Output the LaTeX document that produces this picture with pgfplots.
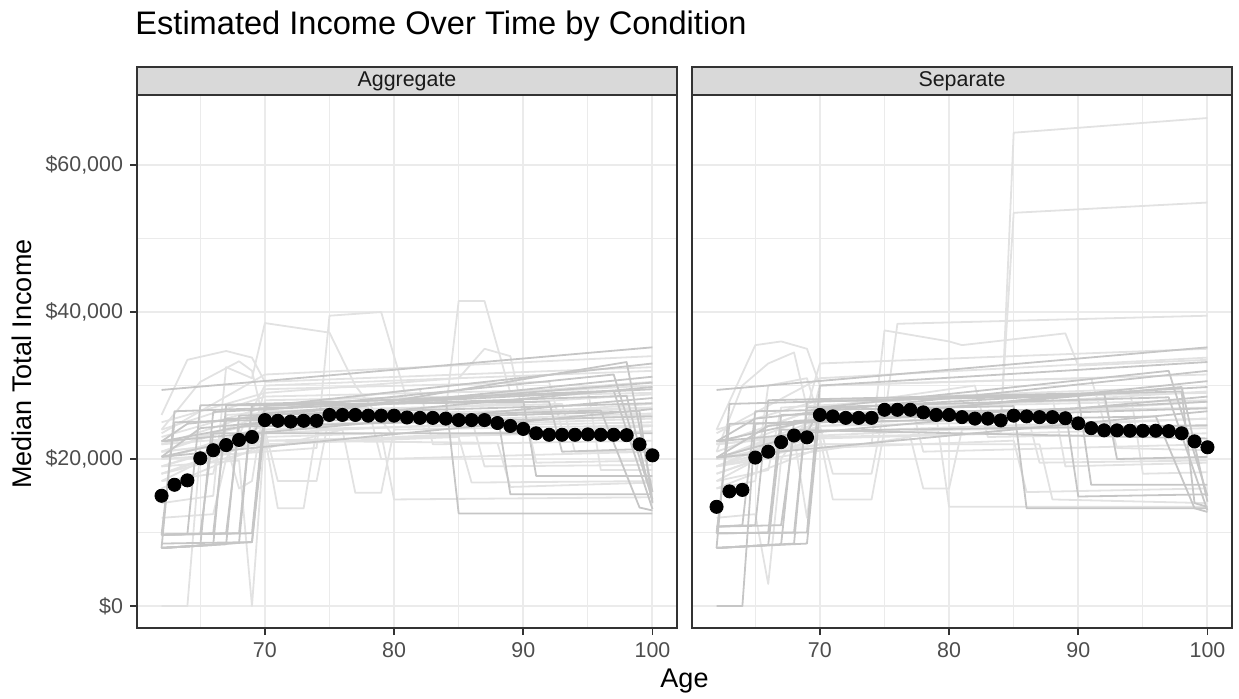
\documentclass[border=0pt]{standalone}
\usepackage{pgfplots}
\usepackage{pgfplotstable}
\pgfplotsset{compat=1.18}
\usepackage{fontspec}
\setmainfont{Liberation Sans}
\definecolor{grey92}{HTML}{EBEBEB}
\definecolor{grey20}{HTML}{333333}
\definecolor{grey30}{HTML}{4D4D4D}
\definecolor{grey10}{HTML}{1A1A1A}
\definecolor{stripfill}{HTML}{D9D9D9}
\definecolor{dkline}{HTML}{C6C6C6}
\definecolor{ltline}{HTML}{E2E2E2}

\pgfplotstableread{
age med
62 15.0
63 16.5
64 17.1
65 20.1
66 21.2
67 21.9
68 22.6
69 23.0
70 25.3
71 25.2
72 25.1
73 25.2
74 25.2
75 26.0
76 26.0
77 26.0
78 25.9
79 25.9
80 25.9
81 25.65
82 25.6
83 25.6
84 25.5
85 25.3
86 25.3
87 25.3
88 24.9
89 24.5
90 24.1
91 23.5
92 23.3
93 23.3
94 23.3
95 23.35
96 23.3
97 23.3
98 23.25
99 22.0
100 20.5
}\aggmed

\pgfplotstableread{
age med
62 13.5
63 15.6
64 15.8
65 20.2
66 21.0
67 22.3
68 23.2
69 22.95
70 26.0
71 25.8
72 25.6
73 25.6
74 25.6
75 26.7
76 26.7
77 26.7
78 26.35
79 26.0
80 26.0
81 25.7
82 25.5
83 25.5
84 25.25
85 25.9
86 25.8
87 25.7
88 25.7
89 25.55
90 24.85
91 24.2
92 23.9
93 23.9
94 23.85
95 23.85
96 23.85
97 23.8
98 23.5
99 22.4
100 21.6
}\sepmed

\pgfplotsset{
  facet/.style={
    anchor=south west, width=270pt, height=266.5pt, scale only axis,
    xmin=60.1, xmax=101.9, ymin=-2.99, ymax=69.53,
    xtick={70,80,90,100}, xticklabels={70,80,90,100},
    minor xtick={65,75,85,95},
    ytick={0,20,40,60}, minor ytick={10,30,50},
    grid=both,
    major grid style={color=grey92, line width=1pt},
    minor grid style={color=grey92, line width=0.55pt},
    axis line style={grey20, line width=0.7pt},
    tick style={grey20, line width=0.8pt},
    major tick length=3.5pt, minor tick length=0pt,
    tick align=outside,
    xtick pos=bottom, ytick pos=left,
    tick label style={font=\fontsize{10.7}{12}\selectfont, text=grey30},
    clip=false,
    cycle list={{black}},
  },
  dk/.style={dkline, line width=0.9pt, line join=round, no markers},
  lt/.style={ltline, line width=0.9pt, line join=round, no markers},
  med/.style={only marks, mark=*, mark size=3.3pt, black},
}

\begin{document}
\begin{tikzpicture}[x=1pt,y=1pt]
\path[use as bounding box] (0,0) rectangle (619.5,349);

% ---------------- Aggregate ----------------
\begin{axis}[facet, at={(68.5pt,35pt)},
  yticklabels={\$0,{\$20,000},{\$40,000},{\$60,000}}]
% light lines
\addplot[lt] coordinates {(62,0)(64,0)(65,21.5)(100,24.5)};
\addplot[lt] coordinates {(62,19)(68,19.8)(69,0)(70,24)(100,25)};
\addplot[lt] coordinates {(62,26)(64,33.5)(67,34.7)(69,33.8)(70,30.5)(100,32.5)};
\addplot[lt] coordinates {(62,24)(65,30.5)(68,33.3)(69,32)(70,24.5)(100,26.2)};
\addplot[lt] coordinates {(62,14)(66,15)(67,32.5)(69,31)(70,38.5)(75,37.2)(77,30)(80,23)(100,24.5)};
\addplot[lt] coordinates {(62,20)(70,21)(74,21.5)(75,39.5)(79,40)(81,28)(100,30.5)};
\addplot[lt] coordinates {(62,22)(70,25)(84,26.5)(85,41.5)(87,41.5)(89,29)(100,30)};
\addplot[lt] coordinates {(62,18)(70,23)(71,13.3)(73,13.3)(74,24)(100,25.5)};
\addplot[lt] coordinates {(62,17)(70,24)(71,17)(74,17)(75,26)(100,27)};
\addplot[lt] coordinates {(62,18)(76,24)(77,15.4)(79,15.4)(80,24)(100,24.6)};
\addplot[lt] coordinates {(62,16)(70,22)(85,23)(86,16.8)(100,17)};
\addplot[lt] coordinates {(62,23)(70,27)(82,29.5)(83,22)(100,22.5)};
\addplot[lt] coordinates {(62,21)(70,26)(90,27.5)(91,19.5)(100,19.8)};
\addplot[lt] coordinates {(62,24)(70,28.5)(95,29.5)(96,18.5)(100,18.5)};
\addplot[lt] coordinates {(62,21)(70,22.5)(88,22.2)(89,16.2)(100,16.8)};
\addplot[lt] coordinates {(62,19)(70,23)(79,23.5)(80,14.5)(100,14.8)};
\addplot[lt] coordinates {(62,25)(70,29)(85,31)(87,35)(89,34)(90,26)(100,27)};
\addplot[lt] coordinates {(62,12)(66,12.5)(67,20)(70,30)(100,32)};
\addplot[lt] coordinates {(62,21)(67,22)(68,16)(69,17)(70,28)(100,29)};
\addplot[lt] coordinates {(62,23.5)(70,31.5)(100,34)};
\addplot[lt] coordinates {(62,20)(70,24)(100,27.5)};
\addplot[lt] coordinates {(62,21)(70,25.5)(100,28.8)};
\addplot[lt] coordinates {(62,19)(70,23.5)(100,26)};
\addplot[lt] coordinates {(62,22)(70,26.5)(93,27.5)(94,21)(100,21)};
\addplot[lt] coordinates {(62,18)(70,22.5)(100,23.8)};
\addplot[lt] coordinates {(62,20)(70,24.5)(86,25.5)(87,19)(100,19.2)};
\addplot[lt] coordinates {(62,17)(66,18)(67,26)(78,27)(79,20)(100,21)};
\addplot[lt] coordinates {(62,22)(69,23)(70,29.5)(92,30.5)(93,24)(100,24.5)};
% dark lines
\addplot[dk] coordinates {(62,29.4)(100,35.2)};
\addplot[dk] coordinates {(62,22.4)(64,24.8)(100,31.2)};
\addplot[dk] coordinates {(62,22.4)(100,28.3)};
\addplot[dk] coordinates {(62,20.3)(65,24.2)(100,29.8)};
\addplot[dk] coordinates {(62,20.3)(100,26.8)};
\addplot[dk] coordinates {(62,7.9)(69,8.7)(70,26.2)(100,30.4)};
\addplot[dk] coordinates {(62,9.7)(68,9.9)(69,27.3)(97,29.3)(100,13.2)};
\addplot[dk] coordinates {(62,7.9)(63,26.5)(98,28.6)(100,14.2)};
\addplot[dk] coordinates {(62,9.7)(64,9.8)(65,27.3)(84,28.2)(85,12.6)(100,12.6)};
\addplot[dk] coordinates {(62,7.9)(65,8.2)(66,26.4)(100,29.5)};
\addplot[dk] coordinates {(62,9.7)(66,9.9)(67,25.5)(88,26.2)(89,15.2)(100,15.2)};
\addplot[dk] coordinates {(62,7.9)(67,8.4)(68,25.9)(100,27.6)};
\addplot[dk] coordinates {(62,9.7)(67,9.9)(68,24.4)(100,25.8)};
\addplot[dk] coordinates {(62,7.9)(68,8.6)(69,27.3)(90,27.9)(91,17.7)(100,17.7)};
\addplot[dk] coordinates {(62,9.7)(63,25)(96,26.6)(99,13.4)(100,13)};
\addplot[dk] coordinates {(62,9.7)(69,9.9)(70,27.2)(100,33)};
\addplot[dk] coordinates {(62,20.3)(69,23)(70,26.7)(97,31.5)(100,14.5)};
\addplot[dk] coordinates {(62,22.4)(70,25)(98,33.2)(100,15.5)};
\addplot[dk] coordinates {(62,8.5)(69,8.7)(70,25)(99,26.5)(100,14)};
\addplot[dk] coordinates {(62,9.7)(65,9.8)(66,23.5)(100,23.5)};
\addplot[dk] coordinates {(62,7.9)(66,8.3)(67,27.3)(92,27.8)(93,21)(100,21.4)};
% medians
\addplot[med] table[x=age,y=med] {\aggmed};
% strip
\draw[fill=stripfill, draw=grey20, line width=0.7pt] (rel axis cs:0,1) rectangle ([yshift=14pt]rel axis cs:1,1);
\node[font=\fontsize{10.7}{12}\selectfont, text=grey10] at ([yshift=7pt]rel axis cs:0.5,1) {Aggregate};
\end{axis}

% ---------------- Separate ----------------
\begin{axis}[facet, at={(346pt,35pt)},
  yticklabels={}, ytick style={draw=none}]
% light lines
\addplot[lt] coordinates {(62,20)(70,23)(84,23.5)(85,64.4)(100,66.4)};
\addplot[lt] coordinates {(62,19)(70,24.5)(84,25)(85,53.5)(100,54.9)};
\addplot[lt] coordinates {(62,24)(65,35.5)(67,36)(69,35)(70,30)(100,31.5)};
\addplot[lt] coordinates {(62,21)(64,30)(66,33)(68,34.5)(69,27)(70,33)(100,35)};
\addplot[lt] coordinates {(62,16)(65,17)(66,30)(69,31)(70,25)(75,25.5)(76,38.4)(100,39.5)};
\addplot[lt] coordinates {(62,19)(70,22)(74,22)(75,37.5)(80,36)(81,35.5)(89,37.1)(90,32.7)(100,33.5)};
\addplot[lt] coordinates {(62,18)(70,23)(71,14.5)(74,14.5)(75,24)(100,25.5)};
\addplot[lt] coordinates {(62,17)(70,24.5)(71,18)(74,18)(75,27)(100,28)};
\addplot[lt] coordinates {(62,19)(77,23)(78,16)(80,16)(81,24)(100,24.5)};
\addplot[lt] coordinates {(62,16)(70,21.5)(85,22.5)(86,15.5)(100,16)};
\addplot[lt] coordinates {(62,22)(70,27)(82,30)(83,23)(100,23.5)};
\addplot[lt] coordinates {(62,20)(70,25)(88,28.5)(89,19)(100,19.5)};
\addplot[lt] coordinates {(62,24)(70,28)(94,29.5)(95,18)(100,18.2)};
\addplot[lt] coordinates {(62,20)(70,22)(87,22)(88,14.5)(100,14)};
\addplot[lt] coordinates {(62,12)(65,12.5)(66,3)(67,20)(70,28)(100,29)};
\addplot[lt] coordinates {(62,22)(68,23)(69,12)(70,26)(100,27)};
\addplot[lt] coordinates {(62,23.5)(70,31)(100,33.8)};
\addplot[lt] coordinates {(62,19)(70,25)(79,26)(80,13.5)(100,13.5)};
\addplot[lt] coordinates {(62,20)(70,24.5)(100,27.8)};
\addplot[lt] coordinates {(62,21)(70,26)(100,29.2)};
\addplot[lt] coordinates {(62,19)(70,23.2)(100,25.5)};
\addplot[lt] coordinates {(62,22)(70,27)(92,28)(93,21.5)(100,21.2)};
\addplot[lt] coordinates {(62,18)(70,22.8)(100,24.2)};
\addplot[lt] coordinates {(62,20)(70,25.5)(86,26.5)(87,19.5)(100,19.8)};
\addplot[lt] coordinates {(62,17)(66,18.5)(67,27)(77,28)(78,21)(100,22)};
\addplot[lt] coordinates {(62,22)(69,23.5)(70,30)(91,31)(92,25)(100,25.5)};
% dark lines
\addplot[dk] coordinates {(62,29.4)(100,35.2)};
\addplot[dk] coordinates {(62,22.4)(65,25.5)(100,32)};
\addplot[dk] coordinates {(62,22.4)(100,28.5)};
\addplot[dk] coordinates {(62,20.2)(66,24.5)(100,30.6)};
\addplot[dk] coordinates {(62,20.2)(100,26.5)};
\addplot[dk] coordinates {(62,7.9)(69,8.5)(70,26.8)(100,29.8)};
\addplot[dk] coordinates {(62,9.9)(68,10)(69,27)(97,28.4)(100,13)};
\addplot[dk] coordinates {(62,7.9)(63,27.5)(98,29.2)(99,14)(100,13.5)};
\addplot[dk] coordinates {(62,10.8)(64,11)(65,26.5)(85,27.2)(86,13.3)(100,13.3)};
\addplot[dk] coordinates {(62,0)(64,0)(65,24.8)(100,27.8)};
\addplot[dk] coordinates {(62,9.9)(66,10)(67,26)(89,26.8)(90,14.9)(100,15.2)};
\addplot[dk] coordinates {(62,7.9)(67,8.4)(68,25.2)(100,26.9)};
\addplot[dk] coordinates {(62,10.8)(67,11)(68,23.8)(100,24.6)};
\addplot[dk] coordinates {(62,7.9)(68,8.5)(69,27.8)(90,28.6)(91,16.5)(100,16.5)};
\addplot[dk] coordinates {(62,9.9)(63,24.8)(96,25.8)(99,13.3)(100,12.8)};
\addplot[dk] coordinates {(62,9.9)(69,10)(70,30)(100,33.2)};
\addplot[dk] coordinates {(62,20.2)(69,23.5)(70,27)(97,32)(100,15)};
\addplot[dk] coordinates {(62,22.4)(70,25.5)(98,29.8)(100,14.2)};
\addplot[dk] coordinates {(62,10.8)(65,11)(66,28)(92,29)(93,20)(100,20.3)};
\addplot[dk] coordinates {(62,7.9)(66,8.3)(67,24)(100,22.8)};
% medians
\addplot[med] table[x=age,y=med] {\sepmed};
% strip
\draw[fill=stripfill, draw=grey20, line width=0.7pt] (rel axis cs:0,1) rectangle ([yshift=14pt]rel axis cs:1,1);
\node[font=\fontsize{10.7}{12}\selectfont, text=grey10] at ([yshift=7pt]rel axis cs:0.5,1) {Separate};
\end{axis}

% titles
\node[anchor=base west, font=\fontsize{16.3}{19}\selectfont, inner sep=0pt] at (67.5,331.5) {Estimated Income Over Time by Condition};
\node[rotate=90, font=\fontsize{13.5}{16}\selectfont, inner sep=0pt] at (11,167) {Median Total Income};
\node[font=\fontsize{13.5}{16}\selectfont, inner sep=0pt] at (342.25,8.5) {Age};
\end{tikzpicture}
\end{document}
